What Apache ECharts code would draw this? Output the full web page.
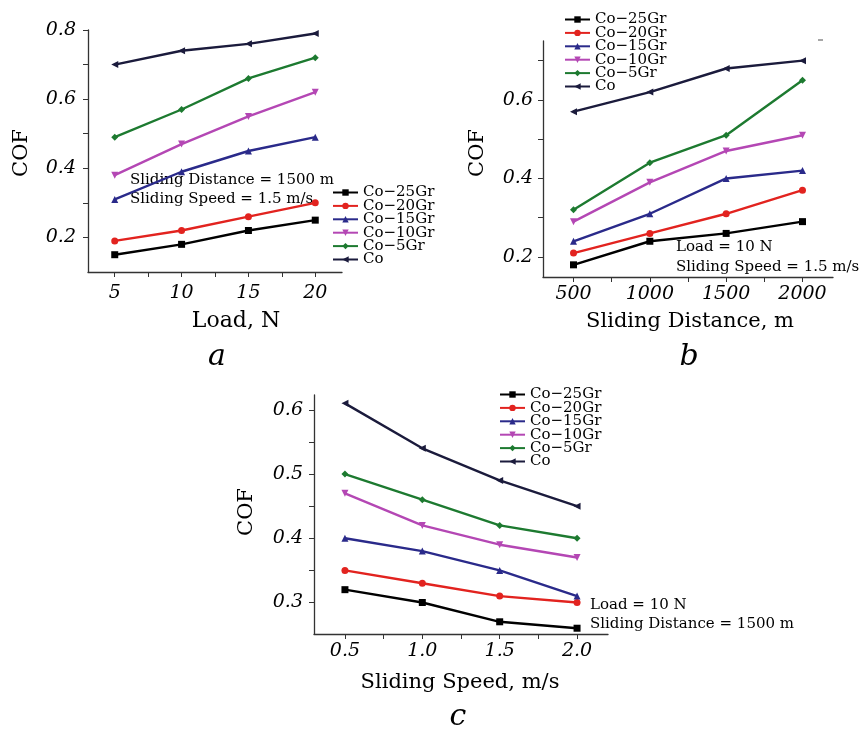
<!DOCTYPE html>
<html>
<head>
<meta charset="utf-8">
<script src="https://cdn.jsdelivr.net/npm/echarts@6/dist/echarts.min.js"></script>
<style>
  html, body { margin: 0; padding: 0; background: #fff; }
  #main { width: 860px; height: 729px; }
</style>
</head>
<body>
<div id="main"></div>
<script>
// 系列名称
var seriesNames = ['Co−25Gr', 'Co−20Gr', 'Co−15Gr', 'Co−10Gr', 'Co−5Gr', 'Co'];

// a: 载荷
var loadN = [5, 10, 15, 20];
var cofLoad = [
  [0.15, 0.18, 0.22, 0.25],
  [0.19, 0.22, 0.26, 0.30],
  [0.31, 0.39, 0.45, 0.49],
  [0.38, 0.47, 0.55, 0.62],
  [0.49, 0.57, 0.66, 0.72],
  [0.70, 0.74, 0.76, 0.79]
];

// b: 滑动距离
var distM = [500, 1000, 1500, 2000];
var cofDist = [
  [0.18, 0.24, 0.26, 0.29],
  [0.21, 0.26, 0.31, 0.37],
  [0.24, 0.31, 0.40, 0.42],
  [0.29, 0.39, 0.47, 0.51],
  [0.32, 0.44, 0.51, 0.65],
  [0.57, 0.62, 0.68, 0.70]
];

// c: 滑动速度
var speedMs = [0.5, 1.0, 1.5, 2.0];
var cofSpeed = [
  [0.32, 0.30, 0.27, 0.26],
  [0.35, 0.33, 0.31, 0.30],
  [0.40, 0.38, 0.35, 0.31],
  [0.47, 0.42, 0.39, 0.37],
  [0.50, 0.46, 0.42, 0.40],
  [0.61, 0.54, 0.49, 0.45]
];

// 刻度
var xTicksA = [5, 7.5, 10, 12.5, 15, 17.5, 20];
var yTicksA = [0.2, 0.3, 0.4, 0.5, 0.6, 0.7, 0.8];
var yLabelsA = [0.2, 0.4, 0.6, 0.8];
var xTicksB = [500, 750, 1000, 1250, 1500, 1750, 2000];
var yTicksB = [0.2, 0.3, 0.4, 0.5, 0.6, 0.7];
var yLabelsB = [0.2, 0.4, 0.6];
var xTicksC = [0.5, 0.75, 1.0, 1.25, 1.5, 1.75, 2.0];
var yTicksC = [0.3, 0.35, 0.4, 0.45, 0.5, 0.55, 0.6];
var yLabelsC = [0.3, 0.4, 0.5, 0.6];

var colors = ['#000000', '#e2231f', '#2a2a8a', '#b447b4', '#1d7a30', '#1b1b3c'];
var symbols = ['rect', 'circle', 'triangle', 'triangle', 'diamond', 'triangle'];
var symbolRot = [0, 0, 0, 180, 0, 90];
var SERIF = "'DejaVu Serif', serif";

var chart = echarts.init(document.getElementById('main'), null, { renderer: 'canvas' });

function xAxisOf(gi, min, max, ticks, labels, margin, fmt) {
  return {
    type: 'value', gridIndex: gi, min: min, max: max,
    splitLine: { show: false },
    axisLine: { onZero: false, lineStyle: { color: '#333', width: 1.3 } },
    axisTick: { customValues: ticks, length: 5, lineStyle: { color: '#333' } },
    axisLabel: {
      customValues: labels, margin: margin, color: '#000',
      fontFamily: SERIF, fontStyle: 'italic', fontSize: 19, formatter: fmt
    }
  };
}

function yAxisOf(gi, min, max, ticks, labels, margin) {
  return {
    type: 'value', gridIndex: gi, min: min, max: max,
    splitLine: { show: false },
    axisLine: { show: true, onZero: false, lineStyle: { color: '#333', width: 1.3 } },
    axisTick: { show: true, customValues: ticks, length: 5, lineStyle: { color: '#333' } },
    axisLabel: {
      customValues: labels, margin: margin, color: '#000',
      fontFamily: SERIF, fontStyle: 'italic', fontSize: 19,
      formatter: function (v) { return v.toFixed(1); }
    }
  };
}

function legendOf(left, top) {
  return {
    left: left, top: top, orient: 'vertical',
    itemWidth: 25, itemHeight: 8, itemGap: -1.6,
    selectedMode: false,
    data: seriesNames,
    textStyle: { fontFamily: SERIF, fontSize: 15, lineHeight: 13, color: '#000' }
  };
}

function buildSeries(gi, xs, table) {
  return table.map(function (row, k) {
    return {
      name: seriesNames[k], type: 'line',
      xAxisIndex: gi, yAxisIndex: gi,
      data: row.map(function (v, j) { return [xs[j], v]; }),
      symbol: symbols[k], symbolRotate: symbolRot[k], symbolSize: 7,
      lineStyle: { color: colors[k], width: 2.4 },
      itemStyle: { color: colors[k] },
      animation: false
    };
  });
}

function txt(x, y, s, size, extra) {
  var st = {
    text: s, x: 0, y: 0, fill: '#000',
    font: (extra && extra.italic ? 'italic ' : '') + size + 'px ' + SERIF,
    textAlign: (extra && extra.align) || 'left', textVerticalAlign: 'middle'
  };
  return { type: 'text', x: x, y: y, rotation: (extra && extra.rot) || 0, style: st, silent: true };
}

var option = {
  backgroundColor: '#fff',
  animation: false,
  grid: [
    { left: 88, top: 30, width: 254, height: 242 },
    { left: 543, top: 41, width: 290, height: 236 },
    { left: 314, top: 395, width: 294, height: 239 }
  ],
  xAxis: [
    xAxisOf(0, 3, 22, xTicksA, loadN, 12, function (v) { return String(v); }),
    xAxisOf(1, 300, 2200, xTicksB, distM, 8, function (v) { return String(v); }),
    xAxisOf(2, 0.3, 2.2, xTicksC, speedMs, 8, function (v) { return v.toFixed(1); })
  ],
  yAxis: [
    yAxisOf(0, 0.1, 0.8, yTicksA, yLabelsA, 12),
    yAxisOf(1, 0.149, 0.75, yTicksB, yLabelsB, 10),
    yAxisOf(2, 0.251, 0.623, yTicksC, yLabelsC, 11)
  ],
  legend: [
    legendOf(327, 180),
    legendOf(559, 7),
    legendOf(494, 382)
  ],
  series: []
    .concat(buildSeries(0, loadN, cofLoad))
    .concat(buildSeries(1, distM, cofDist))
    .concat(buildSeries(2, speedMs, cofSpeed)),
  graphic: [
    // a
    txt(130, 180, 'Sliding Distance = 1500 m', 15),
    txt(130, 199, 'Sliding Speed = 1.5 m/s', 15),
    txt(22, 153, 'COF', 21, { align: 'center', rot: Math.PI / 2 }),
    txt(236, 321, 'Load, N', 22, { align: 'center' }),
    txt(217, 357, 'a', 30, { align: 'center', italic: true }),
    // b
    txt(676, 247, 'Load = 10 N', 15),
    txt(676, 267, 'Sliding Speed = 1.5 m/s', 15),
    txt(478, 153, 'COF', 21, { align: 'center', rot: Math.PI / 2 }),
    txt(690, 322, 'Sliding Distance, m', 21, { align: 'center' }),
    txt(689, 357, 'b', 30, { align: 'center', italic: true }),
    { type: 'line', shape: { x1: 818, y1: 40, x2: 823, y2: 40 }, style: { stroke: '#888', lineWidth: 1.5 }, silent: true },
    // c
    txt(590, 605, 'Load = 10 N', 15),
    txt(590, 624, 'Sliding Distance = 1500 m', 15),
    txt(247, 512, 'COF', 21, { align: 'center', rot: Math.PI / 2 }),
    txt(460, 683, 'Sliding Speed, m/s', 21, { align: 'center' }),
    txt(458, 717, 'c', 30, { align: 'center', italic: true })
  ]
};

chart.setOption(option);
</script>
</body>
</html>
